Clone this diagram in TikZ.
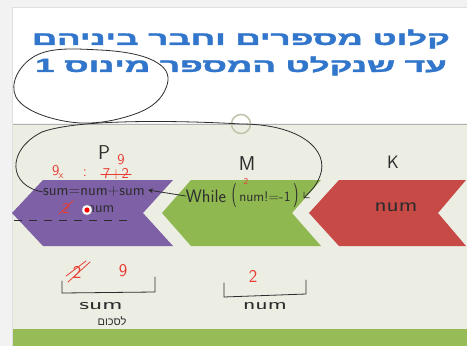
\documentclass[tikz,border=0pt]{standalone}
\usepackage{fontspec}
\usepackage{graphicx}
\TeXXeTstate=1
\newfontfamily\hebfont[Script=Hebrew]{Liberation Sans}
\newfontfamily\hebtitle[Script=Hebrew,FakeBold=1.6]{Liberation Sans Bold}
\usetikzlibrary{arrows.meta}
\definecolor{pagegray}{RGB}{242,242,242}
\definecolor{beige}{RGB}{236,237,227}
\definecolor{barg}{RGB}{150,187,87}
\definecolor{purp}{RGB}{125,96,166}
\definecolor{gree}{RGB}{143,184,81}
\definecolor{redd}{RGB}{200,74,70}
\definecolor{titleblue}{RGB}{50,118,204}
\definecolor{ink}{RGB}{45,45,45}
\definecolor{redink}{RGB}{232,60,50}
\tikzset{
  hand/.style={text=ink, font=\sffamily\fontsize{16}{16}\selectfont, inner sep=0pt},
  redhand/.style={text=redink, font=\sffamily\fontsize{15}{15}\selectfont, inner sep=0pt},
  handline/.style={draw=ink, line width=0.8pt, line cap=round, line join=round},
  redline/.style={draw=redink, line width=0.8pt, line cap=round},
  titletext/.style={text=titleblue, font=\hebtitle\fontsize{19}{19}\selectfont, inner sep=0pt},
}
\begin{document}
\begin{tikzpicture}[x=1pt,y=-1pt]
\useasboundingbox (0,0) rectangle (467,346);
% backgrounds
\fill[pagegray] (0,0) rectangle (467,346);
\fill[white] (12,7) rectangle (467,123);
\fill[beige] (12,125) rectangle (467,329);
\fill[barg] (12,329) rectangle (467,346);
\draw[gray!60, line width=0.8pt] (12,124) -- (467,124);
\draw[gray!25, line width=0.6pt] (12,7) -- (467,7);
\draw[gray!25, line width=0.6pt] (12,7) -- (12,346);

% title
\node[titletext] (t1) at (241,39) {\scalebox{1.84}[1]{\beginR קלוט מספרים וחבר ביניהם\endR}};
\node[titletext] (t2) at (241,66) {\scalebox{1.84}[1]{\beginR עד שנקלט המספר מינוס 1\endR}};

% chevrons
\fill[purp] (12,213) -- (43,180) -- (173,180) -- (143,213) -- (173,246) -- (43,246) -- cycle;
\fill[gree] (162,213) -- (191,180) -- (321,180) -- (292,213) -- (321,246) -- (191,246) -- cycle;
\fill[redd] (309,213) -- (339,180) -- (466,180) -- (438,213) -- (466,246) -- (339,246) -- cycle;

% circle on separator
\node[circle, draw={rgb,255:red,196;green,198;blue,176}, line width=1.6pt, minimum size=19pt, inner sep=0pt] (ring) at (241,124) {};

% ellipse around "minus 1"
\draw[handline] plot[smooth cycle, tension=0.7] coordinates {(35,56) (100,50) (156,62) (166,88) (135,114) (70,122) (16,97)};

% purple chevron annotations
\node[hand, font=\sffamily\fontsize{20}{20}\selectfont] (P) at (104,153) {P};
\node[redhand] (P9) at (121,160) {9};
\node[redhand] (calc9) at (58,172) {9\textsubscript{\kern-1pt x}};
\node[redhand] (colon) at (85,173) {:};
\node[redhand] (calc72) at (116,174) {7+2};
\draw[redline] ([xshift=-2pt]calc72.west) -- ([xshift=2pt]calc72.east);
\node[hand, font=\sffamily\fontsize{16}{16}\selectfont] (sumeq) at (94,192) {sum=num+sum};
\node[redhand] (red2a) at (66,208) {2};
\draw[redline] (59,214) -- (73,201);
\node[hand, font=\sffamily\fontsize{15}{15}\selectfont] (num1) at (101,209) {num};
\node[circle, fill=white, draw=gray!50, minimum size=10pt, inner sep=0pt] (cursor) at (87,210) {};
\fill[red] (cursor.center) circle (2.6pt);
\coordinate (dashA) at (14,220);
\coordinate (dashB) at (132,220);
\draw[ink, line width=1pt, dash pattern=on 8pt off 7pt] (dashA) -- (dashB);

% green chevron annotations
\node[hand, font=\sffamily\fontsize{20}{20}\selectfont] (M) at (247,164) {M};
\node[redhand, font=\sffamily\fontsize{9}{9}\selectfont] (M2) at (246,181) {2};
\node[hand, font=\sffamily\fontsize{18}{18}\selectfont] (while) at (206,196) {While};
\node[hand, font=\sffamily\fontsize{14}{14}\selectfont] (cond) at (265,196) {\scalebox{1}[1.7]{(}\,num!=-1\,\scalebox{1}[1.7]{)}};
\draw[handline, -{Stealth[length=5pt,width=5pt]}] (while.west) -- ([xshift=3pt,yshift=2pt]sumeq.east);
\draw[handline, -{Straight Barb[length=4pt]}] (sumeq.west) .. controls (8,186) and (6,150) .. (42,132)
  .. controls (80,118) and (190,121) .. (ring.center)
  .. controls (300,124) and (330,150) .. (320,176)
  .. controls (316,186) and (312,190) .. ([xshift=5pt,yshift=-2pt]cond.east);

% red chevron annotations
\node[hand, font=\sffamily\fontsize{18}{18}\selectfont] (K) at (393,162) {K};
\node[hand, font=\sffamily\fontsize{20}{20}\selectfont] (num2) at (396,207) {\scalebox{1.25}[1]{num}};

% bottom: sum variable
\node[redhand, font=\sffamily\fontsize{18}{18}\selectfont] (old2) at (77,272) {2};
\draw[redline] (68,282) -- (90,262);
\draw[redline] (66,276) -- (86,261);
\node[redhand, font=\sffamily\fontsize{18}{18}\selectfont] (nine) at (123,271) {9};
\draw[handline] (62,281) -- (62,293) -- (155,292) -- (155,277);
\node[hand, font=\sffamily\fontsize{16}{16}\selectfont] (sumlbl) at (101,306) {\scalebox{1.7}[1]{sum}};
\node[hand, font=\hebfont\fontsize{11}{11}\selectfont] (heb) at (112,321) {\beginR לסכום\endR};

% bottom: num variable
\node[redhand, font=\sffamily\fontsize{18}{18}\selectfont] (two) at (253,276) {2};
\draw[handline] (224,283) -- (224,297) -- (306,294) -- (306,280);
\node[hand, font=\sffamily\fontsize{16}{16}\selectfont] (numlbl) at (265,306) {\scalebox{1.6}[1]{num}};
\end{tikzpicture}
\end{document}
